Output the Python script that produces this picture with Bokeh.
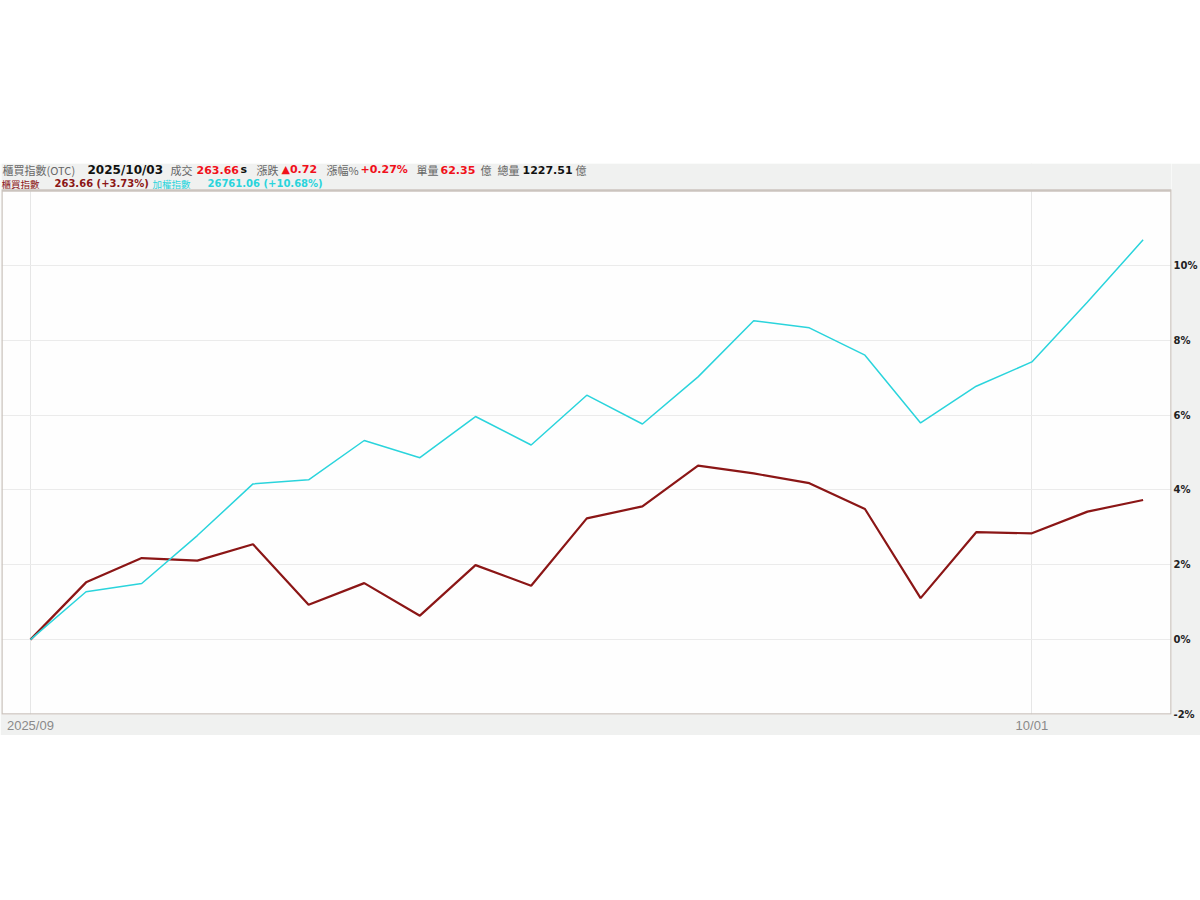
from bokeh.plotting import figure
from bokeh.models import Range1d, FixedTicker, Label, Spacer, BoxAnnotation
from bokeh.layouts import column
from bokeh.embed import file_html
from bokeh.resources import INLINE

# ---- data (cumulative % change since start) ----
idx = list(range(21))
otc_pct = [0, 1.53, 2.18, 2.11, 2.55, 0.93, 1.51, 0.64, 1.99, 1.44, 3.24,
           3.56, 4.65, 4.44, 4.18, 3.49, 1.11, 2.87, 2.84, 3.42, 3.73]
taiex_pct = [0, 1.28, 1.50, 2.78, 4.16, 4.27, 5.32, 4.86, 5.96, 5.20, 6.53,
             5.76, 7.02, 8.52, 8.33, 7.60, 5.79, 6.77, 7.42, 9.02, 10.68]
x_ticks = [0, 18]
x_tick_labels = ["2025/09", "10/01"]
y_ticks = [-2, 0, 2, 4, 6, 8, 10]
y_tick_labels = ["-2%", "0%", "2%", "4%", "6%", "8%", "10%"]

X_MIN, X_MAX = -0.52, 20.51
Y_MIN = -2
Y_PLOT_TOP = 12          # top of the chart box
Y_HEADER_TOP = 12.72     # header strip sits above the chart box

OTC_COLOR = "#8b1616"
TAIEX_COLOR = "#2ad4dc"
GRAY = "#666666"
RED = "#f0101a"
BLACK = "#111111"
BAND = "#f0f1f0"
CJK = "Noto Sans CJK TC"
LAT = "DejaVu Sans"

p = figure(width=1200, height=572,
           x_range=Range1d(X_MIN, X_MAX), y_range=Range1d(Y_MIN, Y_HEADER_TOP),
           output_backend="svg", toolbar_location=None,
           y_axis_location="right", x_axis_location="below",
           min_border_left=1, min_border_right=29,
           min_border_top=0, min_border_bottom=20,
           border_fill_color=BAND, background_fill_color="#fefefe",
           outline_line_color=None)

# grid
p.ygrid.ticker = FixedTicker(ticks=y_ticks)
p.ygrid.grid_line_color = "#ebebeb"
p.xgrid.ticker = FixedTicker(ticks=x_ticks)
p.xgrid.grid_line_color = "#e6e6e6"

# y axis (right)
ya = p.yaxis[0]
ya.ticker = FixedTicker(ticks=y_ticks)
ya.major_label_overrides = {t: l for t, l in zip(y_ticks, y_tick_labels)}
ya.axis_line_color = None
ya.major_tick_line_color = None
ya.major_tick_out = 0
ya.major_tick_in = 0
ya.minor_tick_line_color = None
ya.minor_tick_out = 0
ya.major_label_standoff = 2
ya.major_label_text_font = LAT
ya.major_label_text_font_style = "bold"
ya.major_label_text_font_size = "10px"
ya.major_label_text_color = "#222222"

# x axis
xa = p.xaxis[0]
xa.ticker = FixedTicker(ticks=x_ticks)
xa.major_label_overrides = {t: l for t, l in zip(x_ticks, x_tick_labels)}
xa.axis_line_color = None
xa.major_tick_line_color = None
xa.major_tick_out = 0
xa.major_tick_in = 0
xa.minor_tick_line_color = None
xa.minor_tick_out = 0
xa.major_label_standoff = 3
xa.major_label_text_align = "left"
xa.major_label_text_font = "Liberation Sans"
xa.major_label_text_font_size = "13px"
xa.major_label_text_color = "#8a8a8a"

# lines
p.line(idx, otc_pct, line_color=OTC_COLOR, line_width=2.2)
p.line(idx, taiex_pct, line_color=TAIEX_COLOR, line_width=1.5)

# header strip and chart box
p.add_layout(BoxAnnotation(bottom=Y_PLOT_TOP, fill_color=BAND, fill_alpha=1.0,
                           line_color=None))
p.add_layout(BoxAnnotation(left=X_MIN, right=X_MAX, bottom=Y_MIN, top=Y_PLOT_TOP,
                           fill_alpha=0, fill_color=None,
                           line_color="#cbc4be", line_alpha=1.0, line_width=2.5))

# header texts: (text, x, color, font, bold, size)
line1 = [
    ("櫃買指數(OTC)", 1, GRAY, CJK, False, "11px"),
    ("2025/10/03", 86, BLACK, LAT, True, "12px"),
    ("成交", 169, GRAY, CJK, False, "11px"),
    ("263.66", 195, RED, LAT, True, "11px"),
    ("s", 239, BLACK, LAT, True, "11px"),
    ("漲跌", 255, GRAY, CJK, False, "11px"),
    ("▲0.72", 280, RED, LAT, True, "11px"),
    ("漲幅%", 325, GRAY, CJK, False, "11px"),
    ("+0.27%", 359, RED, LAT, True, "11px"),
    ("單量", 415, GRAY, CJK, False, "11px"),
    ("62.35", 439, RED, LAT, True, "11px"),
    ("億", 479, GRAY, CJK, False, "11px"),
    ("總量", 496, GRAY, CJK, False, "11px"),
    ("1227.51", 521, BLACK, LAT, True, "11px"),
    ("億", 574, GRAY, CJK, False, "11px"),
]
line2 = [
    ("櫃買指數", 0, OTC_COLOR, CJK, False, "9.5px"),
    ("263.66 (+3.73%)", 53, OTC_COLOR, LAT, True, "10px"),
    ("加權指數", 151, TAIEX_COLOR, CJK, False, "9.5px"),
    ("26761.06 (+10.68%)", 206, TAIEX_COLOR, LAT, True, "10px"),
]
for items, yy in ((line1, 545), (line2, 531)):
    for text, xx, color, font, bold, size in items:
        p.add_layout(Label(x=xx, y=yy, x_units="screen", y_units="screen",
                           text=text, text_color=color, text_font=font,
                           text_font_style="bold" if bold else "normal",
                           text_font_size=size, text_align="left",
                           text_baseline="middle"))

layout = column(Spacer(width=1200, height=163), p)
open("out.html", "w").write(file_html(layout, INLINE))
